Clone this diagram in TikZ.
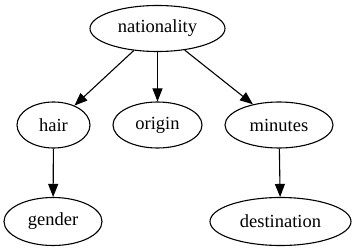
\documentclass[tikz,border=0pt]{standalone}
\usepackage{fontspec}
\setmainfont{Liberation Serif}
\usetikzlibrary{shapes.geometric, arrows.meta}

\begin{document}
\begin{tikzpicture}[x=1pt, y=-1pt,
            var/.style={ellipse, draw=black, line width=1.1pt, inner sep=0pt, minimum height=46pt, font=\fontsize{18.5}{20}\selectfont},
            edge/.style={-{Triangle[length=13pt, width=10pt]}, line width=1.1pt}
        ]
            \useasboundingbox (0,0) rectangle (353,251);

            % --- nodes ---
            \node[var, minimum width=135pt] (nationality) at (157.5,28.5) {nationality};
            \node[var, minimum width=73pt] (hair) at (53.5,125) {hair};
            \node[var, minimum width=89pt] (origin) at (157.5,125) {origin};
            \node[var, minimum width=108pt] (minutes) at (279,125) {minutes};
            \node[var, minimum width=98pt, minimum height=48pt] (gender) at (53,221.5) {gender};
            \node[var, minimum width=141pt, minimum height=48pt] (destination) at (280.5,221.5) {destination};

            % --- edges ---
            \draw[edge] (nationality) -- (hair);
            \draw[edge] (nationality) -- (origin);
            \draw[edge] (nationality) -- (minutes);
            \draw[edge] (hair) -- (gender);
            \draw[edge] (minutes) -- (destination);
        \end{tikzpicture}
\end{document}
